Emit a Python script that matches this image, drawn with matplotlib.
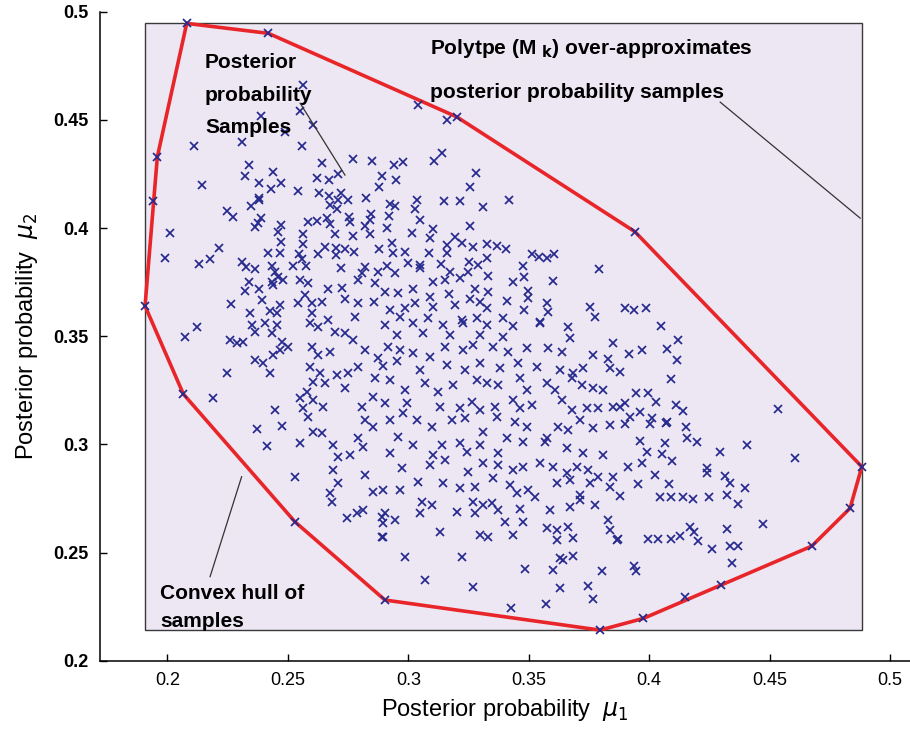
import matplotlib
matplotlib.use("Agg")
import matplotlib.pyplot as plt
from matplotlib.patches import Rectangle

plt.rcParams['font.family'] = ['Liberation Sans', 'DejaVu Sans']

# --------- convex hull vertices (mu1, mu2), in order ---------
hull_mu1 = [0.1907, 0.1958, 0.2080, 0.2419, 0.3201, 0.3941, 0.4883,
            0.4834, 0.4675, 0.3976, 0.3796, 0.2903, 0.2529, 0.2066]
hull_mu2 = [0.3640, 0.4329, 0.4946, 0.4900, 0.4514, 0.3983, 0.2897,
            0.2705, 0.2530, 0.2196, 0.2142, 0.2281, 0.2643, 0.3233]

# --------- posterior samples, by region ---------
samples_upper_left = [
    (0.255, 0.454), (0.239, 0.452), (0.211, 0.438), (0.231, 0.440), (0.256, 0.438),
    (0.264, 0.430), (0.277, 0.432), (0.285, 0.431), (0.234, 0.429), (0.244, 0.426),
    (0.232, 0.424), (0.247, 0.421), (0.262, 0.423), (0.267, 0.422), (0.271, 0.425),
    (0.289, 0.424), (0.2145, 0.420), (0.238, 0.421), (0.243, 0.418), (0.254, 0.417),
    (0.263, 0.416), (0.267, 0.415), (0.272, 0.416), (0.288, 0.419), (0.238, 0.414),
    (0.238, 0.413), (0.194, 0.4125), (0.271, 0.413), (0.275, 0.413), (0.2825, 0.414),
    (0.2675, 0.4106), (0.2347, 0.410), (0.2703, 0.4087), (0.2246, 0.4078), (0.2273, 0.4052),
    (0.2388, 0.4045), (0.2377, 0.4024), (0.2363, 0.4003), (0.2471, 0.4013), (0.2585, 0.4029),
    (0.2622, 0.4032), (0.2661, 0.4045), (0.2675, 0.4018), (0.2755, 0.4052), (0.2758, 0.4029),
    (0.282, 0.401), (0.2845, 0.4065), (0.2841, 0.4037), (0.201, 0.3978), (0.246, 0.398),
    (0.2562, 0.3971), (0.2696, 0.3972), (0.2769, 0.3963), (0.2841, 0.3971), (0.247, 0.3934),
    (0.2562, 0.3926), (0.2654, 0.3914), (0.270, 0.3906), (0.2737, 0.3903), (0.2775, 0.3888),
    (0.288, 0.3903), (0.2214, 0.3909), (0.199, 0.3863), (0.2176, 0.3855), (0.2131, 0.3832),
    (0.2419, 0.3883), (0.2467, 0.3886), (0.2547, 0.3878), (0.2626, 0.3878), (0.270, 0.3875),
    (0.2308, 0.3844), (0.2326, 0.3821), (0.2363, 0.3811), (0.2433, 0.3826), (0.2447, 0.3798),
    (0.246, 0.3775), (0.2522, 0.3826), (0.2557, 0.3855), (0.2575, 0.3826), (0.272, 0.3814),
    (0.282, 0.3821), (0.2807, 0.3791), (0.2875, 0.3798), (0.234, 0.3752), (0.2433, 0.3752),
    (0.2481, 0.376), (0.255, 0.376), (0.2585, 0.3744), (0.2668, 0.3718), (0.2723, 0.3721),
    (0.2792, 0.376), (0.2862, 0.3744), (0.2322, 0.3709), (0.2381, 0.3718), (0.2437, 0.3737),
    (0.2571, 0.369), (0.2737, 0.3672), (0.2391, 0.3667), (0.2264, 0.3647), (0.2467, 0.3644),
    (0.2543, 0.3652), (0.2599, 0.3652), (0.264, 0.3659), (0.2792, 0.3652), (0.2859, 0.3659),
    (0.2343, 0.3606), (0.2425, 0.3616), (0.2453, 0.3606), (0.2599, 0.3606), (0.2665, 0.3575),
    (0.2779, 0.359), (0.2564, 0.466), (0.2606, 0.4476), (0.2488, 0.4445),
]

samples_upper_mid = [
    (0.3039, 0.4571), (0.316, 0.4499), (0.3139, 0.4348), (0.3108, 0.431), (0.2941, 0.4291),
    (0.2977, 0.4304), (0.2949, 0.4222), (0.328, 0.4253), (0.3258, 0.4188), (0.3148, 0.4125),
    (0.3215, 0.4125), (0.342, 0.4129), (0.3311, 0.4096), (0.2924, 0.411), (0.2945, 0.4102),
    (0.3035, 0.4129), (0.3028, 0.4088), (0.2921, 0.4057), (0.3049, 0.4037), (0.291, 0.4001),
    (0.3104, 0.3998), (0.3256, 0.4011), (0.3014, 0.3975), (0.309, 0.3955), (0.3194, 0.396),
    (0.2931, 0.3932), (0.3222, 0.3929), (0.327, 0.3914), (0.3326, 0.3926), (0.337, 0.3918),
    (0.3405, 0.3903), (0.316, 0.3921), (0.316, 0.3883), (0.3087, 0.3883), (0.2986, 0.389),
    (0.2938, 0.3883), (0.3512, 0.388), (0.3544, 0.3867), (0.3577, 0.386), (0.3606, 0.388),
    (0.3253, 0.3841), (0.3291, 0.3829), (0.3328, 0.386), (0.3136, 0.3834), (0.3049, 0.3829),
    (0.300, 0.3837), (0.291, 0.3826), (0.3475, 0.3826), (0.3792, 0.3811), (0.3173, 0.3798),
    (0.3249, 0.3798), (0.2945, 0.3791), (0.3049, 0.3814), (0.3332, 0.3778), (0.348, 0.3775),
    (0.3602, 0.3755), (0.3436, 0.3749), (0.3104, 0.3749), (0.3152, 0.376), (0.3215, 0.377),
    (0.3021, 0.3718), (0.2958, 0.3701), (0.2903, 0.3706), (0.3277, 0.3717), (0.3332, 0.3706),
    (0.3498, 0.371), (0.317, 0.3694), (0.309, 0.3683), (0.3498, 0.3675), (0.3408, 0.3663),
    (0.3256, 0.3672), (0.3298, 0.3659), (0.2986, 0.3629), (0.2924, 0.3621), (0.3028, 0.3652),
    (0.3104, 0.3636), (0.3194, 0.3644), (0.3326, 0.3629), (0.348, 0.3621), (0.3575, 0.3652),
    (0.3755, 0.3633), (0.3775, 0.359), (0.3579, 0.3613), (0.2965, 0.359), (0.3083, 0.3583),
    (0.3222, 0.3575), (0.3284, 0.3583), (0.3394, 0.3583), (0.3547, 0.3567),
]

samples_right = [
    (0.39, 0.3629), (0.3939, 0.3621), (0.3986, 0.3632), (0.405, 0.3547), (0.4121, 0.3482),
    (0.4076, 0.3441), (0.3972, 0.3436), (0.3917, 0.3416), (0.4115, 0.339), (0.3879, 0.3336),
    (0.4091, 0.3302), (0.3944, 0.3239), (0.3997, 0.3239), (0.4029, 0.3195), (0.39, 0.319),
    (0.4111, 0.3182), (0.4142, 0.3156), (0.4537, 0.3162), (0.3962, 0.3151), (0.3921, 0.3128),
    (0.4011, 0.312), (0.4073, 0.3105), (0.3879, 0.3174), (0.385, 0.3467), (0.3768, 0.3413),
    (0.3831, 0.3393), (0.3838, 0.3352), (0.39, 0.3096), (0.4004, 0.3094), (0.4069, 0.3097),
    (0.4153, 0.3079), (0.4156, 0.3028), (0.4198, 0.3013), (0.3962, 0.3017), (0.4066, 0.3008),
    (0.4405, 0.2997), (0.4294, 0.2967), (0.4606, 0.2936), (0.399, 0.2963), (0.4052, 0.2956),
    (0.4096, 0.2925), (0.3972, 0.2915), (0.3911, 0.2894), (0.4239, 0.289), (0.4239, 0.2867),
    (0.4025, 0.2859), (0.4315, 0.2854), (0.4336, 0.282), (0.4398, 0.280), (0.3953, 0.2817),
    (0.4083, 0.2817), (0.3879, 0.2762), (0.4045, 0.2756), (0.4091, 0.2758), (0.4142, 0.2758),
    (0.4184, 0.2748), (0.425, 0.2758), (0.4322, 0.2766), (0.4368, 0.2723), (0.4474, 0.2632),
    (0.417, 0.262), (0.4188, 0.2594), (0.4322, 0.2609), (0.3872, 0.2561), (0.3997, 0.2561),
    (0.4036, 0.2561), (0.4091, 0.2561), (0.4128, 0.2576), (0.4202, 0.2555), (0.426, 0.2517),
    (0.4336, 0.253), (0.4368, 0.253), (0.4346, 0.2453), (0.3937, 0.2439), (0.3944, 0.2415),
    (0.4149, 0.2296), (0.4299, 0.235),
]

samples_lower_mid = [
    (0.2903, 0.3551), (0.3021, 0.356), (0.3145, 0.3551), (0.3228, 0.356), (0.3326, 0.3551),
    (0.3436, 0.3547), (0.3547, 0.3562), (0.3664, 0.3541), (0.2952, 0.3506), (0.3062, 0.3513),
    (0.3173, 0.3506), (0.3298, 0.3506), (0.3394, 0.3498), (0.3672, 0.3491), (0.2917, 0.3452),
    (0.2965, 0.3436), (0.3021, 0.3421), (0.309, 0.3405), (0.3152, 0.3452), (0.3228, 0.3436),
    (0.327, 0.3459), (0.3353, 0.3452), (0.3415, 0.3428), (0.3492, 0.3444), (0.3581, 0.3444),
    (0.3637, 0.3425), (0.2896, 0.3362), (0.2952, 0.3385), (0.3049, 0.3344), (0.316, 0.3367),
    (0.3236, 0.3344), (0.3298, 0.3375), (0.3381, 0.3352), (0.3457, 0.3375), (0.3533, 0.3359),
    (0.363, 0.3344), (0.3685, 0.3329), (0.3727, 0.3352), (0.2924, 0.3298), (0.2986, 0.3252),
    (0.3069, 0.3282), (0.3124, 0.3244), (0.3187, 0.3274), (0.3284, 0.3298), (0.3326, 0.3282),
    (0.3374, 0.3274), (0.3464, 0.3305), (0.3492, 0.3252), (0.3575, 0.3282), (0.3609, 0.3252),
    (0.3679, 0.3305), (0.372, 0.3274), (0.3768, 0.3259), (0.381, 0.3252), (0.2903, 0.319),
    (0.2993, 0.319), (0.3132, 0.3174), (0.3215, 0.3167), (0.3263, 0.3197), (0.3298, 0.3159),
    (0.336, 0.3174), (0.3436, 0.3205), (0.3464, 0.3167), (0.3512, 0.3182), (0.3637, 0.3205),
    (0.3679, 0.3159), (0.3741, 0.3167), (0.3789, 0.3167), (0.3851, 0.3174), (0.2924, 0.3113),
    (0.2979, 0.3144), (0.3035, 0.3113), (0.3097, 0.3082), (0.318, 0.3113), (0.3236, 0.312),
    (0.3311, 0.3059), (0.3367, 0.3128), (0.3443, 0.3105), (0.3492, 0.3082), (0.3575, 0.3028),
    (0.3623, 0.3082), (0.3664, 0.3067), (0.3713, 0.3113), (0.3768, 0.3074), (0.3838, 0.309),
    (0.2924, 0.2959), (0.2958, 0.3036), (0.3021, 0.2997), (0.3104, 0.2951), (0.3139, 0.2997),
    (0.3215, 0.3005), (0.3243, 0.2967), (0.3298, 0.2997), (0.3374, 0.2959), (0.3408, 0.3028),
    (0.3478, 0.3013), (0.3568, 0.3013), (0.3657, 0.2982), (0.3727, 0.2959), (0.381, 0.2951),
    (0.2972, 0.289), (0.309, 0.2905), (0.3152, 0.2928), (0.3249, 0.2874), (0.3311, 0.2913),
    (0.3374, 0.2905), (0.3436, 0.2882), (0.3478, 0.2897), (0.3547, 0.2913), (0.3602, 0.2897),
    (0.3657, 0.2867), (0.3699, 0.2897), (0.3748, 0.2882), (0.3789, 0.2851), (0.3851, 0.2851),
    (0.2896, 0.2789), (0.2965, 0.2789), (0.3042, 0.2828), (0.3145, 0.282), (0.3215, 0.2797),
    (0.3277, 0.2805), (0.3353, 0.2844), (0.3422, 0.2812), (0.345, 0.2774), (0.3498, 0.2789),
    (0.3616, 0.282), (0.3672, 0.2836), (0.3713, 0.2766), (0.3755, 0.282), (0.3838, 0.2805),
    (0.3056, 0.2733), (0.3097, 0.272), (0.327, 0.2733), (0.3311, 0.2721), (0.3346, 0.2728),
    (0.3374, 0.2697), (0.3464, 0.270), (0.3526, 0.2755), (0.3588, 0.2697), (0.3672, 0.2713),
    (0.3713, 0.2743), (0.3775, 0.2721), (0.3049, 0.2682), (0.3201, 0.2689), (0.3277, 0.2682),
    (0.2903, 0.2682), (0.2896, 0.2636), (0.2945, 0.2651), (0.3401, 0.2643), (0.3478, 0.2643),
    (0.3575, 0.2612), (0.3616, 0.2604), (0.3664, 0.262), (0.3831, 0.2651), (0.3838, 0.2604),
    (0.3865, 0.2558), (0.3132, 0.2597), (0.3298, 0.2581), (0.3332, 0.2573), (0.3436, 0.2581),
    (0.2896, 0.2573), (0.3616, 0.2558), (0.3685, 0.2566), (0.2986, 0.2482), (0.3222, 0.2482),
    (0.363, 0.2474), (0.3685, 0.2484), (0.3644, 0.2466), (0.3485, 0.2423), (0.3602, 0.242),
    (0.3803, 0.2417), (0.3069, 0.2373), (0.327, 0.2342), (0.363, 0.2335), (0.3748, 0.2347),
    (0.3768, 0.2284), (0.3571, 0.2261), (0.3427, 0.2245),
]

samples_lower_left = [
    (0.2073, 0.3498), (0.2121, 0.3541), (0.226, 0.3482), (0.2287, 0.3467), (0.2315, 0.3475),
    (0.235, 0.3552), (0.2405, 0.356), (0.2453, 0.3551), (0.2363, 0.3521), (0.2433, 0.3513),
    (0.2474, 0.3475), (0.2502, 0.3452), (0.2467, 0.3436), (0.2363, 0.339), (0.2398, 0.3375),
    (0.2439, 0.3413), (0.2426, 0.3329), (0.2246, 0.3329), (0.219, 0.3213), (0.2592, 0.356),
    (0.2626, 0.3544), (0.2696, 0.3521), (0.2599, 0.3452), (0.2626, 0.3413), (0.2675, 0.3428),
    (0.2737, 0.3513), (0.2772, 0.3482), (0.282, 0.3436), (0.2875, 0.3398), (0.2592, 0.3359),
    (0.2633, 0.3329), (0.2606, 0.329), (0.2654, 0.3282), (0.2703, 0.3321), (0.2751, 0.3329),
    (0.2792, 0.3359), (0.2862, 0.3305), (0.2737, 0.3259), (0.2578, 0.3244), (0.255, 0.3213),
    (0.2606, 0.3205), (0.2647, 0.3174), (0.2564, 0.3167), (0.2807, 0.3174), (0.2855, 0.322),
    (0.2447, 0.3159), (0.2585, 0.3128), (0.2606, 0.3059), (0.264, 0.3051), (0.237, 0.307),
    (0.2474, 0.3085), (0.282, 0.3113), (0.2855, 0.3082), (0.2412, 0.2991), (0.255, 0.3005),
    (0.2689, 0.2997), (0.2792, 0.3028), (0.2813, 0.2989), (0.2709, 0.2943), (0.2758, 0.2951),
    (0.2529, 0.2851), (0.2689, 0.2882), (0.2709, 0.282), (0.282, 0.2859), (0.2675, 0.2774),
    (0.2682, 0.2735), (0.2855, 0.2782), (0.2744, 0.2658), (0.2786, 0.2682), (0.2813, 0.2697),
    (0.289, 0.2666), (0.289, 0.2573),
]

samples = (samples_upper_left + samples_upper_mid + samples_right
           + samples_lower_mid + samples_lower_left)
mu1 = [p[0] for p in samples]
mu2 = [p[1] for p in samples]

fig = plt.figure(figsize=(9.1, 7.31), dpi=100)
ax = fig.add_axes([0.1099, 0.096, 0.8901, 0.888])

# polytope over-approximation (bounding box of the hull)
x0, x1 = min(hull_mu1), max(hull_mu1)
y0, y1 = min(hull_mu2), max(hull_mu2)
ax.add_patch(Rectangle((x0, y0), x1 - x0, y1 - y0, facecolor="#ede6f3",
                       edgecolor="#3a3a3a", linewidth=1.0, zorder=1))

ax.plot(hull_mu1 + hull_mu1[:1], hull_mu2 + hull_mu2[:1], color="#e8262a",
        linewidth=2.6, zorder=3, solid_joinstyle="miter")
ax.plot(mu1, mu2, linestyle="none", marker="x", markersize=5.8,
        markeredgewidth=1.25, color="#252a8c", zorder=4)
ax.plot(hull_mu1, hull_mu2, linestyle="none", marker="x", markersize=5.8,
        markeredgewidth=1.25, color="#252a8c", zorder=4)

# annotations
bold = dict(fontsize=15, fontweight="bold", color="black", va="center", ha="left", zorder=5)
ax.text(0.2156, 0.4767, "Posterior", **bold)
ax.text(0.2156, 0.4614, "probability", **bold)
ax.text(0.2156, 0.4466, "Samples", **bold)
ax.plot([0.2551, 0.2737], [0.4577, 0.4245], color="#333333", linewidth=0.9, zorder=5)

ax.text(0.3091, 0.4832, r"Polytpe (M $_{\mathbf{k}}$) over-approximates", **bold)
ax.text(0.3091, 0.4628, "posterior probability samples", **bold)
ax.plot([0.4295, 0.4876], [0.4582, 0.4046], color="#333333", linewidth=0.9, zorder=5)

ax.text(0.1969, 0.2313, "Convex hull of", **bold)
ax.text(0.1969, 0.2183, "samples", **bold)
ax.plot([0.2177, 0.2308], [0.2389, 0.2851], color="#333333", linewidth=0.9, zorder=5)

ax.set_xlim(0.172, 0.5083)
ax.set_ylim(0.2, 0.5)
ax.set_xticks([0.2, 0.25, 0.3, 0.35, 0.4, 0.45, 0.5])
ax.set_xticklabels(["0.2", "0.25", "0.3", "0.35", "0.4", "0.45", "0.5"])
ax.set_yticks([0.2, 0.25, 0.3, 0.35, 0.4, 0.45, 0.5])
ax.set_yticklabels(["0.2", "0.25", "0.3", "0.35", "0.4", "0.45", "0.5"], fontweight="bold")
ax.tick_params(direction="in", length=5, width=1, labelsize=13, pad=8)
for s in ["top", "right"]:
    ax.spines[s].set_visible(False)
for s in ["left", "bottom"]:
    ax.spines[s].set_linewidth(1.1)

ax.set_xlabel(r"Posterior probability  $\mu_1$", fontsize=17, labelpad=6)
ax.set_ylabel(r"Posterior probability  $\mu_2$", fontsize=17, labelpad=10)

fig.savefig("out.png", dpi=100)
